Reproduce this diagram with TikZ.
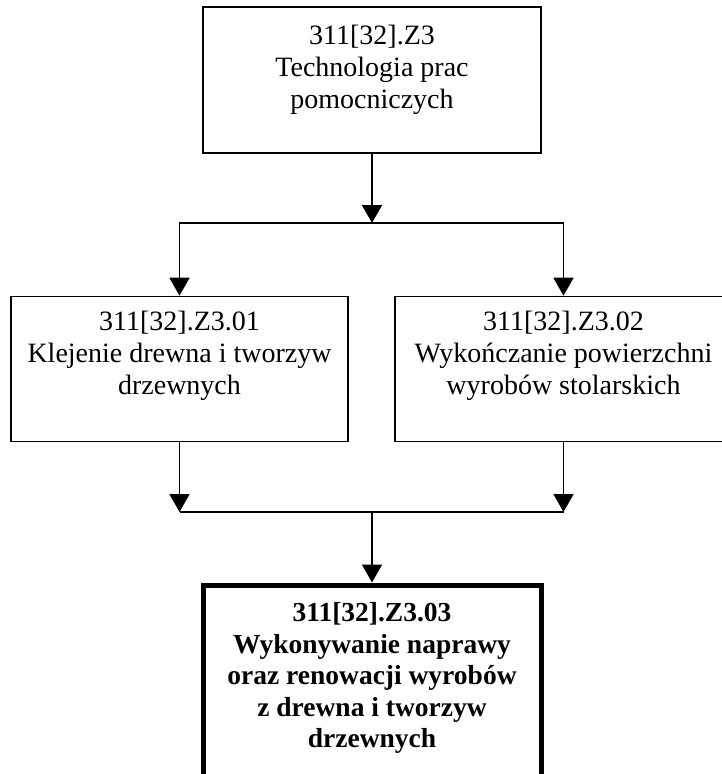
\documentclass[tikz,border=0pt]{standalone}
\usepackage{fontspec}
\setmainfont{Liberation Serif}
\usetikzlibrary{arrows.meta,positioning,calc}

\begin{document}
\begin{tikzpicture}[
  x=1pt, y=-1pt,
  >={Triangle[length=18pt,width=20pt]},
  box/.style={rectangle, draw, line width=1.6pt, minimum width=337pt, minimum height=145pt, align=center, inner sep=0pt, font=\fontsize{28}{32}\selectfont},
  mainbox/.style={box, line width=5pt, minimum width=338pt, minimum height=212pt, font=\fontsize{27.5}{31.5}\selectfont\bfseries},
  arr/.style={->, line width=1.6pt},
  conn/.style={line width=1.6pt},
]
\useasboundingbox (0,0) rectangle (721,774);

\node[box, minimum width=338pt, minimum height=146pt] (top) at (372,80) {311[32].Z3\\Technologia prac\\pomocniczych\\[-6pt]~};
\node[box] (left) at (179.5,369) {311[32].Z3.01\\Klejenie drewna i tworzyw\\drzewnych\\~};
\node[box] (right) at (563.5,369) {311[32].Z3.02\\Wykończanie powierzchni\\wyrobów stolarskich\\~};
\node[mainbox] (bottom) at (372,691) {311[32].Z3.03\\Wykonywanie naprawy\\oraz renowacji wyrobów\\z drewna i tworzyw\\drzewnych\\~};

\coordinate (split) at (372,223);
\coordinate (merge) at (372,512);

\draw[arr] (top) -- (split);
\draw[arr] (split) -| (left.north);
\draw[arr] (split) -| (right.north);

\draw[arr] (left.south) -- (left.south |- merge);
\draw[arr] (right.south) -- (right.south |- merge);
\draw[conn] (left.south |- merge) -- (right.south |- merge);
\draw[arr] (merge) -- (bottom);

\end{tikzpicture}
\end{document}
